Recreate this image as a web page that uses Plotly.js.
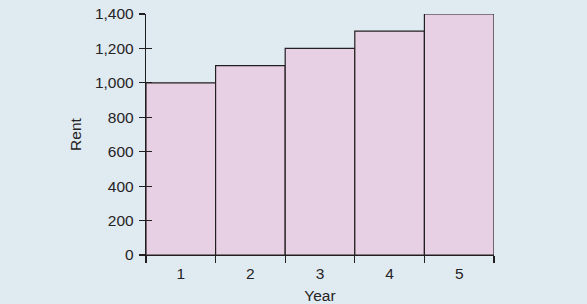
<!DOCTYPE html>
<html><head><meta charset="utf-8">
<script src="https://cdn.plot.ly/plotly-3.0.1.min.js"></script>
<style>html,body{margin:0;padding:0;background:#dfeaf1}</style>
</head><body>
<div id="chart" style="width:587px;height:304px"></div>
<script>
const years = ['1','2','3','4','5'];
const rent = [1000, 1100, 1200, 1300, 1400];
const yTicks = [0, 200, 400, 600, 800, 1000, 1200, 1400];
const yTickLabels = ['0','200','400','600','800','1,000','1,200','1,400'];

const ink = '#231f20';
const font = {family: 'Liberation Sans, Arial, sans-serif', size: 15.5, color: '#262324'};

const data = [{
  type: 'bar', x: years, y: rent,
  marker: {color: '#e8d0e4', line: {color: ink, width: 1.2}},
  hoverinfo: 'skip'
}, {
  type: 'scatter', x: years, y: rent, yaxis: 'y2', mode: 'none', hoverinfo: 'skip', showlegend: false
}];

const layout = {
  width: 587, height: 304,
  margin: {l: 146, r: 93, t: 14, b: 49},
  paper_bgcolor: '#dfeaf1', plot_bgcolor: 'rgba(0,0,0,0)',
  showlegend: false, bargap: 0, font: font,
  xaxis: {
    type: 'category', tickson: 'boundaries', ticks: 'outside', ticklen: 7, tickwidth: 1.2, tickcolor: ink,
    showline: true, linecolor: ink, linewidth: 1.2, showgrid: false, zeroline: false,
    tickfont: font, ticklabelstandoff: 4,
    title: {text: 'Year', font: font, standoff: 14}
  },
  yaxis: {
    range: [0, 1400], tickvals: yTicks, ticktext: yTickLabels,
    ticks: 'outside', ticklen: 6, tickwidth: 1.2, tickcolor: ink,
    showline: true, linecolor: ink, linewidth: 1.2, showgrid: false, zeroline: false,
    tickfont: font, ticklabelstandoff: 2,
    title: {text: 'Rent', font: font, standoff: 9}
  },
  yaxis2: {
    overlaying: 'y', side: 'left', range: [0, 1400], tickvals: yTicks, showticklabels: false,
    ticks: 'inside', ticklen: 6, tickwidth: 1.2, tickcolor: ink,
    showline: false, showgrid: false, zeroline: false
  }
};
Plotly.newPlot('chart', data, layout, {staticPlot: true, displayModeBar: false});
</script>
</body></html>
